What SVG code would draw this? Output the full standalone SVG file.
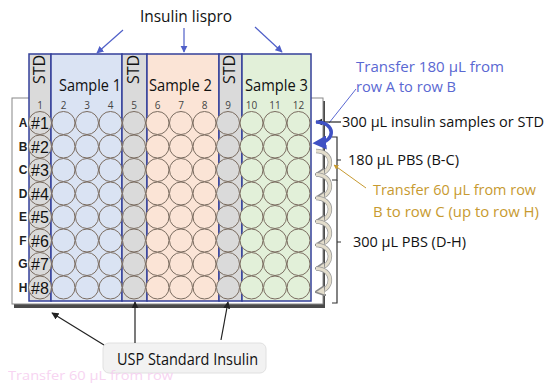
<svg xmlns="http://www.w3.org/2000/svg" width="550" height="383" viewBox="0 0 550 383">
<style>
text{font-family:"Open Sans","Liberation Sans",sans-serif;}
.band{stroke:#34409a;stroke-width:1.5;}
.std{fill:#dadada;}
.s1{fill:#dae3f3;}
.s2{fill:#fbe4d6;}
.s3{fill:#e2f0d9;}
.w{stroke:#7a6c60;stroke-width:1;}
.cn{font-size:10px;fill:#444;text-anchor:middle;}
.rl{font-size:12px;font-weight:bold;fill:#222;text-anchor:middle;font-family:"Liberation Sans",sans-serif;}
.hn{font-size:16px;fill:#111;text-anchor:middle;font-family:"Liberation Sans",sans-serif;}
.hd{font-size:16px;fill:#111;}
.lbl{font-size:14.5px;fill:#111;}
.blue{font-size:14.5px;fill:#5a68d2;}
.org{font-size:14.5px;fill:#c79a30;}
.ptr{stroke:#4f5fc8;stroke-width:1.2;fill:none;}
.blk{stroke:#222;stroke-width:1.2;fill:none;}
.brk{stroke:#333;stroke-width:1.2;fill:none;}
.curlO{stroke:#9a9a9a;stroke-width:4.5;fill:none;}
.curlI{stroke:#e3ddcc;stroke-width:3;fill:none;}
</style>
<defs>
<marker id="ab" viewBox="0 0 10 10" refX="9" refY="5" markerWidth="6" markerHeight="6" orient="auto"><path d="M0,0L10,5L0,10z" fill="#4f5fc8"/></marker>
<marker id="ak" viewBox="0 0 10 10" refX="9" refY="5" markerWidth="6" markerHeight="6" orient="auto"><path d="M0,0L10,5L0,10z" fill="#222"/></marker>
<marker id="abl" viewBox="0 0 10 10" refX="6" refY="5" markerWidth="4" markerHeight="4" orient="auto"><path d="M0,0L10,5L0,10z" fill="#3f51c4"/></marker>
<marker id="agr" viewBox="0 0 10 10" refX="6" refY="5" markerWidth="3.4" markerHeight="3.4" orient="auto"><path d="M0,0L10,5L0,10z" fill="#e3ddcc" stroke="#8a8a8a" stroke-width="1.5"/></marker>
<marker id="ao" viewBox="0 0 10 10" refX="9" refY="5" markerWidth="5" markerHeight="5" orient="auto"><path d="M0,0L10,5L0,10z" fill="#c79a30"/></marker>
</defs>

<g id="title">
<text class="hd" x="140" y="22" textLength="92" lengthAdjust="spacingAndGlyphs">Insulin lispro</text>
</g>

<g id="plate">
<rect x="14" y="101" width="311" height="207" fill="#4a4a4a"/>
<rect x="12" y="98" width="311" height="206" fill="#ffffff" stroke="#888" stroke-width="1"/>
</g>

<g id="columns">
<rect class="band std" x="29" y="54" width="22" height="247"/>
<rect class="band s1" x="51" y="54" width="71" height="247"/>
<rect class="band std" x="122" y="54" width="25" height="247"/>
<rect class="band s2" x="147" y="54" width="72" height="247"/>
<rect class="band std" x="219" y="54" width="23" height="247"/>
<rect class="band s3" x="242" y="54" width="69" height="247"/>
<text class="hd" transform="translate(45,84) rotate(-90)" font-size="14">STD</text>
<text class="hd" transform="translate(139,84) rotate(-90)" font-size="14">STD</text>
<text class="hd" transform="translate(235,84) rotate(-90)" font-size="14">STD</text>
<text class="hd" x="59" y="91" textLength="62" lengthAdjust="spacingAndGlyphs">Sample 1</text>
<text class="hd" x="149" y="91" textLength="63" lengthAdjust="spacingAndGlyphs">Sample 2</text>
<text class="hd" x="245" y="91" textLength="63" lengthAdjust="spacingAndGlyphs">Sample 3</text>
</g>

<g id="numbers">
<text class="cn" x="40" y="109">1</text>
<text class="cn" x="63.5" y="109">2</text>
<text class="cn" x="87" y="109">3</text>
<text class="cn" x="110.5" y="109">4</text>
<text class="cn" x="134" y="109">5</text>
<text class="cn" x="157.5" y="109">6</text>
<text class="cn" x="181" y="109">7</text>
<text class="cn" x="204.5" y="109">8</text>
<text class="cn" x="228" y="109">9</text>
<text class="cn" x="251.5" y="109">10</text>
<text class="cn" x="275" y="109">11</text>
<text class="cn" x="298.5" y="109">12</text>
<text class="rl" x="23" y="127">A</text>
<text class="rl" x="23" y="150.5">B</text>
<text class="rl" x="23" y="174">C</text>
<text class="rl" x="23" y="197.5">D</text>
<text class="rl" x="23" y="221">E</text>
<text class="rl" x="23" y="244.5">F</text>
<text class="rl" x="23" y="268">G</text>
<text class="rl" x="23" y="291.5">H</text>
</g>

<g id="wells">
<g id="row-pattern">
<circle class="w std" cx="40" cy="123" r="11.5"/>
<circle class="w s1" cx="63.5" cy="123" r="11.5"/>
<circle class="w s1" cx="87" cy="123" r="11.5"/>
<circle class="w s1" cx="110.5" cy="123" r="11.5"/>
<circle class="w std" cx="134" cy="123" r="11.5"/>
<circle class="w s2" cx="157.5" cy="123" r="11.5"/>
<circle class="w s2" cx="181" cy="123" r="11.5"/>
<circle class="w s2" cx="204.5" cy="123" r="11.5"/>
<circle class="w std" cx="228" cy="123" r="11.5"/>
<circle class="w s3" cx="251.5" cy="123" r="11.5"/>
<circle class="w s3" cx="275" cy="123" r="11.5"/>
<circle class="w s3" cx="298.5" cy="123" r="11.5"/>
</g>
<use href="#row-pattern" transform="translate(0,23.5)"/>
<use href="#row-pattern" transform="translate(0,47)"/>
<use href="#row-pattern" transform="translate(0,70.5)"/>
<use href="#row-pattern" transform="translate(0,94)"/>
<use href="#row-pattern" transform="translate(0,117.5)"/>
<use href="#row-pattern" transform="translate(0,141)"/>
<use href="#row-pattern" transform="translate(0,164.5)"/>
<text class="hn" x="40" y="129">#1</text>
<text class="hn" x="40" y="152.5">#2</text>
<text class="hn" x="40" y="176">#3</text>
<text class="hn" x="40" y="199.5">#4</text>
<text class="hn" x="40" y="223">#5</text>
<text class="hn" x="40" y="246.5">#6</text>
<text class="hn" x="40" y="270">#7</text>
<text class="hn" x="40" y="293.5">#8</text>
</g>

<g id="usp-label">
<rect x="103" y="343" width="163" height="30" rx="6" fill="#f2f2f2" stroke="#e0e0e0"/>
<text class="hd" x="117" y="365" textLength="141" lengthAdjust="spacingAndGlyphs">USP Standard Insulin</text>
</g>

<g id="right-labels">
<text class="blue" x="356" y="72" textLength="148" lengthAdjust="spacingAndGlyphs">Transfer  180 µL from</text>
<text class="blue" x="356" y="92" textLength="100" lengthAdjust="spacingAndGlyphs">row A to row B</text>
<text class="lbl" x="342" y="127" textLength="202" lengthAdjust="spacingAndGlyphs">300 µL insulin samples or STD</text>
<text class="lbl" x="348" y="165" textLength="111" lengthAdjust="spacingAndGlyphs">180 µL PBS (B-C)</text>
<text class="org" x="373" y="195" textLength="163" lengthAdjust="spacingAndGlyphs">Transfer  60 µL from row</text>
<text class="org" x="373" y="217" textLength="166" lengthAdjust="spacingAndGlyphs">B to row C (up to row H)</text>
<text class="lbl" x="353" y="247" textLength="113" lengthAdjust="spacingAndGlyphs">300 µL PBS (D-H)</text>
</g>

<text x="8" y="380" font-size="13" fill="#f6cdef" opacity="0.85" textLength="165" lengthAdjust="spacingAndGlyphs">Transfer  60 µL from row</text>

<g id="connectors">
<line class="ptr" x1="123" y1="30" x2="97" y2="53" marker-end="url(#ab)"/>
<line class="ptr" x1="184" y1="28" x2="184" y2="52" marker-end="url(#ab)"/>
<line class="ptr" x1="255" y1="27" x2="282" y2="52" marker-end="url(#ab)"/>
<line x1="356" y1="89" x2="329" y2="123" stroke="#5a68d2" stroke-width="1"/>
<line class="blk" x1="341" y1="122" x2="316" y2="122" marker-end="url(#ak)"/>
<path d="M316,122 C336,122 336,142 318,143" stroke="#3f51c4" stroke-width="3.5" fill="none" marker-end="url(#abl)"/>
<g id="curls">
<path class="curlO" d="M316,151 C334,151 334,172 319,174"/>
<path class="curlI" d="M316,151 C334,151 334,172 319,174" marker-end="url(#agr)"/>
<path class="curlO" d="M316,174.5 C334,174.5 334,195.5 319,197.5"/>
<path class="curlI" d="M316,174.5 C334,174.5 334,195.5 319,197.5" marker-end="url(#agr)"/>
<path class="curlO" d="M316,198 C334,198 334,219 319,221"/>
<path class="curlI" d="M316,198 C334,198 334,219 319,221" marker-end="url(#agr)"/>
<path class="curlO" d="M316,221.5 C334,221.5 334,242.5 319,244.5"/>
<path class="curlI" d="M316,221.5 C334,221.5 334,242.5 319,244.5" marker-end="url(#agr)"/>
<path class="curlO" d="M316,245 C334,245 334,266 319,268"/>
<path class="curlI" d="M316,245 C334,245 334,266 319,268" marker-end="url(#agr)"/>
<path class="curlO" d="M316,268.5 C334,268.5 334,289.5 319,291.5"/>
<path class="curlI" d="M316,268.5 C334,268.5 334,289.5 319,291.5" marker-end="url(#agr)"/>
</g>
<path class="brk" d="M332,137 H337 V180 H332 M337,160 H341"/>
<path class="brk" d="M337,180 V303 H332 M337,242 H341"/>
<line x1="366" y1="188" x2="334" y2="165" stroke="#c79a30" stroke-width="1" marker-end="url(#ao)"/>
<line class="blk" x1="104" y1="345" x2="52" y2="313" marker-end="url(#ak)"/>
<line class="blk" x1="135" y1="343" x2="135" y2="302" marker-end="url(#ak)"/>
<line class="blk" x1="221" y1="340" x2="228" y2="302" marker-end="url(#ak)"/>
</g>
</svg>
